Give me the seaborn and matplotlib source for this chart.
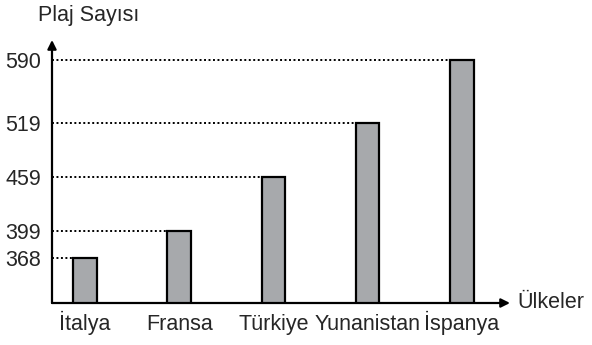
import matplotlib
matplotlib.use("Agg")
import matplotlib.pyplot as plt
import pandas as pd
import seaborn as sns

# Number of beaches per country
countries = ["İtalya", "Fransa", "Türkiye", "Yunanistan", "İspanya"]
beaches = [368, 399, 459, 519, 590]
y_ticks = [368, 399, 459, 519, 590]

df = pd.DataFrame({"country": countries, "beaches": beaches})

sns.set_style("white")
FONT = ["Liberation Sans", "DejaVu Sans"]
plt.rcParams["font.family"] = FONT
FS = 15.5

fig = plt.figure(figsize=(5.92, 3.45), dpi=100)
ax = fig.add_axes([52 / 592, 1 - 303 / 345, 458 / 592, 263 / 345])

sns.barplot(data=df, x="country", y="beaches", ax=ax, width=0.25,
            color="#a7a9ac", saturation=1, edgecolor="black", linewidth=1.6,
            zorder=3)

ax.set_xlim(-0.35, 4.51)
ax.set_ylim(318, 612)

# dotted guide from the y axis to the left edge of each bar top
for patch, val in zip(ax.patches, beaches):
    ax.plot([ax.get_xlim()[0], patch.get_x()], [val, val], color="black",
            lw=1.4, linestyle=(0, (1, 1.3)), zorder=2, clip_on=False)

ax.set_yticks(y_ticks)
ax.set_yticklabels([str(v) for v in y_ticks])
ax.tick_params(axis="y", length=0, pad=8)
ax.tick_params(axis="x", length=0, pad=19.5)
for lbl in ax.get_yticklabels():
    lbl.set_fontfamily(FONT)
    lbl.set_fontsize(FS)
for lbl in ax.get_xticklabels():
    lbl.set_fontfamily(FONT)
    lbl.set_fontsize(FS)
    lbl.set_va("baseline")
ax.set_xlabel("")
ax.set_ylabel("")

for s in ax.spines.values():
    s.set_visible(False)

# axis arrows
arrow = dict(arrowstyle="-|>", color="black", lw=1.6, mutation_scale=13,
             shrinkA=0, shrinkB=0)
ax.annotate("", xy=(0, 1), xytext=(0, 0), xycoords="axes fraction",
            textcoords="axes fraction", arrowprops=arrow)
ax.annotate("", xy=(1, 0), xytext=(0, 0), xycoords="axes fraction",
            textcoords="axes fraction", arrowprops=arrow)

fig.text(38 / 592, 1 - 21 / 345, "Plaj Sayısı", fontsize=FS, family=FONT,
         ha="left", va="baseline")
fig.text(517 / 592, 1 - 303 / 345, "Ülkeler", fontsize=FS, family=FONT,
         ha="left", va="center")

fig.savefig("out.png", dpi=100, facecolor="white")
